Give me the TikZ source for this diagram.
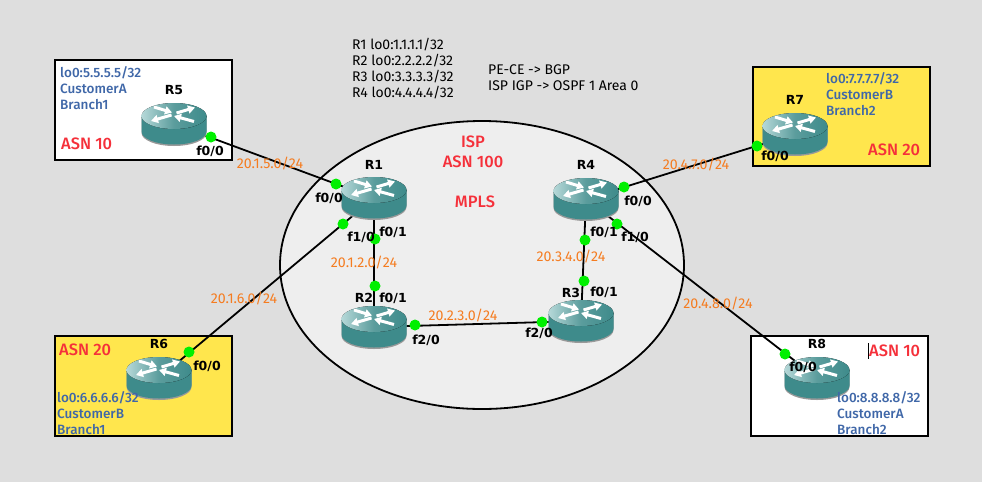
\documentclass[tikz,border=0pt]{standalone}
\usepackage{fontspec}
\setmainfont{Fira Sans}[BoldFont={Fira Sans Medium}]
\newfontfamily\portafont{DejaVu Sans}
\usetikzlibrary{arrows.meta}
\definecolor{sfondo}{HTML}{DEDEDE}
\definecolor{nuvola}{HTML}{EEEEEE}
\definecolor{giallo}{HTML}{FFE64D}
\definecolor{bluetto}{HTML}{3F67A8}
\definecolor{rosso}{HTML}{F5303A}
\definecolor{arancio}{HTML}{F57C20}
\definecolor{verde}{HTML}{00F000}
\definecolor{ottanio}{HTML}{3E8B8B}
\definecolor{ottanioChiaro}{HTML}{B5D8D8}
\newcommand{\routericona}[2]{%
	\begin{scope}[shift={(#1,#2)},line cap=butt]
		% Bordo grigio sotto, poi corpo e disco superiore.
		\fill[black!40] (-32.5,-8) -- (-32.5,9) arc[start angle=180,end angle=0,x radius=32.5,y radius=13] -- (32.5,-8) -- cycle;
		\fill[ottanio] (-32.5,-8) -- (-32.5,7.5) arc[start angle=180,end angle=0,x radius=32.5,y radius=13] -- (32.5,-8) -- cycle;
		\fill[left color=ottanioChiaro,right color=ottanio,middle color=ottanio!85!white] (0,-8) ellipse (32.5 and 13);
		% Frecce bianche sul disco.
		\draw[white,line width=3pt,-{Triangle[length=7pt,width=8pt]}] (-20,-17) -- (-2,-11.5);
		\draw[white,line width=3pt,-{Triangle[length=7pt,width=8pt]}] (2.5,-11) -- (21,-16.5);
		\draw[white,line width=3pt,-{Triangle[length=7pt,width=8pt]}] (-2.5,-9) -- (-23,-3);
		\draw[white,line width=3pt,-{Triangle[length=7pt,width=8pt]}] (20,-2.5) -- (0,-8);
	\end{scope}%
}

\begin{document}
\begin{tikzpicture}[x=1pt,y=-1pt,
  porta/.style={circle,fill=verde,inner sep=0pt,minimum size=11pt},
  plabel/.style={font=\portafont\bfseries\fontsize{12.5}{14}\selectfont,inner sep=0pt},
  subnet/.style={font=\fontsize{14.2}{14}\selectfont,text=arancio,inner sep=0pt},
  titolo/.style={font=\fontsize{16.5}{20}\selectfont\bfseries,text=rosso,inner sep=0pt,align=center},
  lan/.style={font=\fontsize{13.5}{16}\selectfont\bfseries,text=bluetto,inner sep=0pt,align=left,anchor=west},
  note/.style={font=\fontsize{14}{16}\selectfont,inner sep=0pt,align=left,anchor=west},
  sito/.style={draw=black,line width=1.8pt}]
  \useasboundingbox (0,0) rectangle (982,482);
  \fill[sfondo] (0,0) rectangle (982,482);
  \draw[fill=nuvola,line width=1.8pt] (482,265) ellipse (202 and 144);
  % Riquadri dei clienti.
  \draw[sito,fill=white] (55,60) rectangle (232,160);
  \draw[sito,fill=giallo] (753,67) rectangle (930,166);
  \draw[sito,fill=giallo] (55,336) rectangle (232,436);
  \draw[sito,fill=white] (751,336) rectangle (928,436);
  \draw[black,line width=0.8pt] (868.5,343) -- (868.5,359);
  % Centri dei router, usati dai collegamenti.
  \foreach \nome/\x/\y in {R1/374/198, R2/374/327, R3/581/321, R4/586/199,
    R5/174/124, R6/159/378, R7/795/134, R8/817/378}{
    \coordinate (\nome) at (\x,\y);
  }
  \foreach \da/\a in {R5/R1, R6/R1, R1/R2, R2/R3, R3/R4, R4/R7, R4/R8}{
    \draw[line width=1.8pt] (\da) -- (\a);
  }
  \foreach \x/\y in {374/198, 374/327, 581/321, 586/199, 174/124, 159/378, 795/134, 817/378}{
    \routericona{\x}{\y}
  }
  % Porte verdi sui collegamenti.
  \foreach \nome/\x/\y in {p5/211/137, p1a/336/184, p1b/343/224, p1c/375/239,
    p2a/375/286, p2b/415/325, p3a/542/322, p3b/584/281, p4a/585/240, p4b/617/224,
    p4c/624/187, p6/189/352, p7/757/146, p8/785/354}{
    \node[porta] (\nome) at (\x,\y) {};
  }
  % Nomi dei router e delle interfacce.
  \foreach \nome/\x/\y in {R1/374/165, R2/364/298, R3/571/293, R4/586/165,
    R5/174/90, R6/159/344, R7/795/100, R8/817/344}{
    \node[plabel] (nome\nome) at (\x,\y) {\nome};
  }
  \foreach \nome/\x/\y/\testo in {a/210/151/f0\slash 0, b/329/198/f0\slash 0, c/361/237/f1\slash 0,
    d/393/232/f0\slash 1, e/393/298/f0\slash 1, f/426/340/f2\slash 0, g/539/333/f2\slash 0,
    h/604/292/f0\slash 1, i/604/232/f0\slash 1, j/635/237/f1\slash 0, k/638/201/f0\slash 0,
    l/775/156/f0\slash 0, m/207/366/f0\slash 0, n/803/367/f0\slash 0}{
    \node[plabel] (if\nome) at (\x,\y) {\testo};
  }
  \foreach \nome/\x/\y/\testo in {a/270/164/20.1.5.0\slash 24, b/244/299/20.1.6.0\slash 24,
    c/364/263/20.1.2.0\slash 24, d/463/316/20.2.3.0\slash 24, e/571/257/20.3.4.0\slash 24,
    f/696/165/20.4.7.0\slash 24, g/718/304/20.4.8.0\slash 24}{
    \node[subnet] (net\nome) at (\x,\y) {\testo};
  }
  \node[titolo] (isp) at (473,152) {ISP\\ASN 100};
  \node[titolo] (mpls) at (475,202) {MPLS};
  \node[titolo,anchor=west] (asn5) at (61,144) {ASN 10};
  \node[titolo,anchor=west] (asn7) at (868,150) {ASN 20};
  \node[titolo,anchor=west] (asn6) at (59,350) {ASN 20};
  \node[titolo,anchor=west] (asn8) at (869,351) {ASN 10};
  \node[lan] (lan5) at (60,88) {lo0:5.5.5.5/32\\CustomerA\\Branch1};
  \node[lan] (lan7) at (826,94) {lo0:7.7.7.7/32\\CustomerB\\Branch2};
  \node[lan] (lan6) at (57,413) {lo0:6.6.6.6/32\\CustomerB\\Branch1};
  \node[lan] (lan8) at (837,413) {lo0:8.8.8.8/32\\CustomerA\\Branch2};
  \node[note] (loopback) at (352,69) {R1 lo0:1.1.1.1/32\\R2 lo0:2.2.2.2/32\\R3 lo0:3.3.3.3/32\\R4 lo0:4.4.4.4/32};
  \node[note] (protocolli) at (488,78) {PE-CE -> BGP\\ISP IGP -> OSPF 1 Area 0};
\end{tikzpicture}
\end{document}
